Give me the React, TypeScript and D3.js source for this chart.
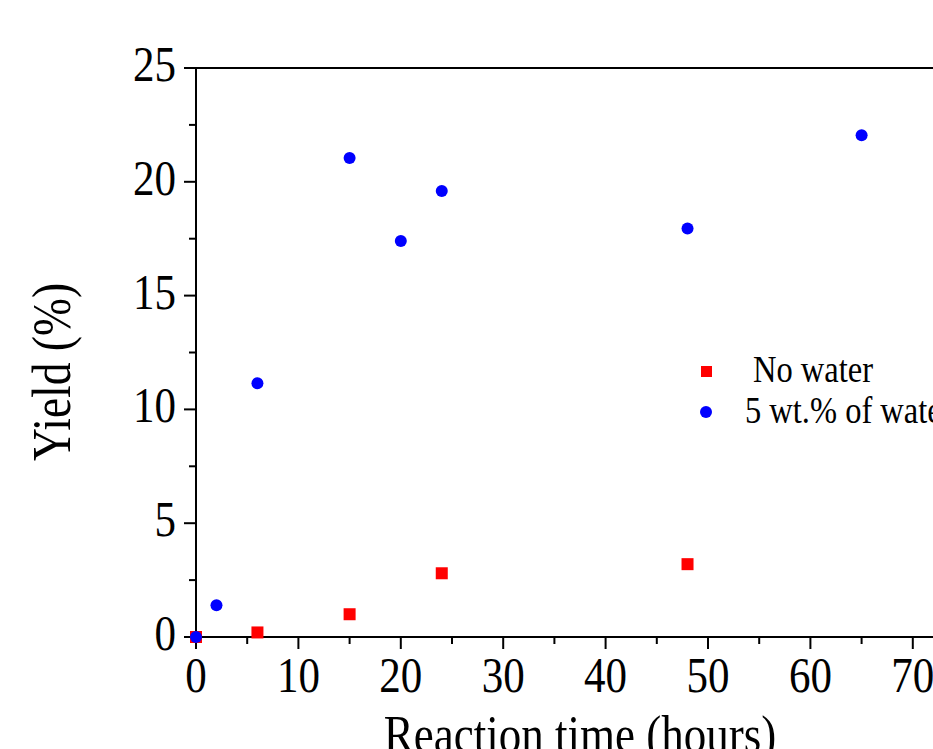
import React, { useEffect, useRef } from 'react';
import * as d3 from 'd3';

// reaction time (hours) and yield (%)
const noWaterTime = [0, 6, 15, 24, 48];
const noWaterYield = [0, 0.2, 1.0, 2.8, 3.2];
const waterTime = [0, 2, 6, 15, 20, 24, 48, 65];
const waterYield = [0, 1.4, 11.15, 21.05, 17.4, 19.6, 17.95, 22.05];
const xTicks = [0, 10, 20, 30, 40, 50, 60, 70];
const yTicks = [0, 5, 10, 15, 20, 25];
const legendLabels = ['No water', '5 wt.% of water'];

const W = 933;
const H = 749;
const FONT = '"Liberation Serif", "Times New Roman", serif';
const STRETCH = 1.16; // text looks vertically stretched in the picture

const App = () => {
  const ref = useRef<SVGSVGElement | null>(null);

  useEffect(() => {
    const svg = d3.select(ref.current);
    svg.selectAll('*').remove();

    const margin = { left: 196, top: 68, right: 964, bottom: 637 };
    const x = d3.scaleLinear().domain([0, 75]).range([margin.left, margin.right]);
    const y = d3.scaleLinear().domain([0, 25]).range([margin.bottom, margin.top]);

    const g = svg.append('g');

    // frame
    g.append('rect')
      .attr('x', margin.left)
      .attr('y', margin.top)
      .attr('width', margin.right - margin.left)
      .attr('height', margin.bottom - margin.top)
      .attr('fill', 'none')
      .attr('stroke', 'black')
      .attr('stroke-width', 2);

    // x ticks
    const xMinor = d3.range(0, 76, 5);
    g.selectAll('.xt')
      .data(xMinor)
      .enter()
      .append('line')
      .attr('x1', (d) => x(d))
      .attr('x2', (d) => x(d))
      .attr('y1', margin.bottom)
      .attr('y2', (d) => margin.bottom + (d % 10 === 0 ? 12 : 7))
      .attr('stroke', 'black')
      .attr('stroke-width', 2);

    g.selectAll('.xl')
      .data(xTicks)
      .enter()
      .append('text')
      .attr('transform', (d) => `translate(${x(d)},${margin.bottom + 55}) scale(1,${STRETCH})`)
      .attr('text-anchor', 'middle')
      .style('font-family', FONT)
      .style('font-size', '43px')
      .text((d) => d);

    // y ticks
    const yMinor = d3.range(0, 25.1, 2.5);
    g.selectAll('.yt')
      .data(yMinor)
      .enter()
      .append('line')
      .attr('x1', margin.left)
      .attr('x2', (d) => margin.left - (d % 5 === 0 ? 12 : 7))
      .attr('y1', (d) => y(d))
      .attr('y2', (d) => y(d))
      .attr('stroke', 'black')
      .attr('stroke-width', 2);

    g.selectAll('.yl')
      .data(yTicks)
      .enter()
      .append('text')
      .attr('transform', (d) => `translate(${margin.left - 20},${y(d) + 13}) scale(1,${STRETCH})`)
      .attr('text-anchor', 'end')
      .style('font-family', FONT)
      .style('font-size', '43px')
      .text((d) => d);

    // axis titles
    g.append('text')
      .attr('transform', `translate(70,372) rotate(-90) scale(1,1.19)`)
      .attr('text-anchor', 'middle')
      .style('font-family', FONT)
      .style('font-size', '45.5px')
      .text('Yield (%)');

    g.append('text')
      .attr('transform', `translate(${(margin.left + margin.right) / 2},752) scale(1,${STRETCH})`)
      .attr('text-anchor', 'middle')
      .style('font-family', FONT)
      .style('font-size', '45px')
      .text('Reaction time (hours)');

    // data
    const s = 12;
    g.selectAll('.sq')
      .data(noWaterTime)
      .enter()
      .append('rect')
      .attr('x', (d) => x(d) - s / 2)
      .attr('y', (d, i) => y(noWaterYield[i]) - s / 2)
      .attr('width', s)
      .attr('height', s)
      .attr('fill', '#ff0000');

    g.selectAll('.ci')
      .data(waterTime)
      .enter()
      .append('circle')
      .attr('cx', (d) => x(d))
      .attr('cy', (d, i) => y(waterYield[i]))
      .attr('r', 6)
      .attr('fill', '#0000ff');

    // legend
    g.append('rect')
      .attr('x', 701)
      .attr('y', 366)
      .attr('width', 11)
      .attr('height', 11)
      .attr('fill', '#ff0000');
    g.append('circle')
      .attr('cx', 706)
      .attr('cy', 412)
      .attr('r', 6)
      .attr('fill', '#0000ff');
    g.append('text')
      .attr('transform', `translate(753,382) scale(1,${STRETCH})`)
      .style('font-family', FONT)
      .style('font-size', '32.5px')
      .text(legendLabels[0]);
    g.append('text')
      .attr('transform', `translate(745,423) scale(1,${STRETCH})`)
      .style('font-family', FONT)
      .style('font-size', '32.5px')
      .text(legendLabels[1]);
  }, []);

  return (
    <svg
      ref={ref}
      width={W}
      height={H}
      style={{ position: 'absolute', left: 0, top: 0, background: 'white' }}
    />
  );
};

export default App;
